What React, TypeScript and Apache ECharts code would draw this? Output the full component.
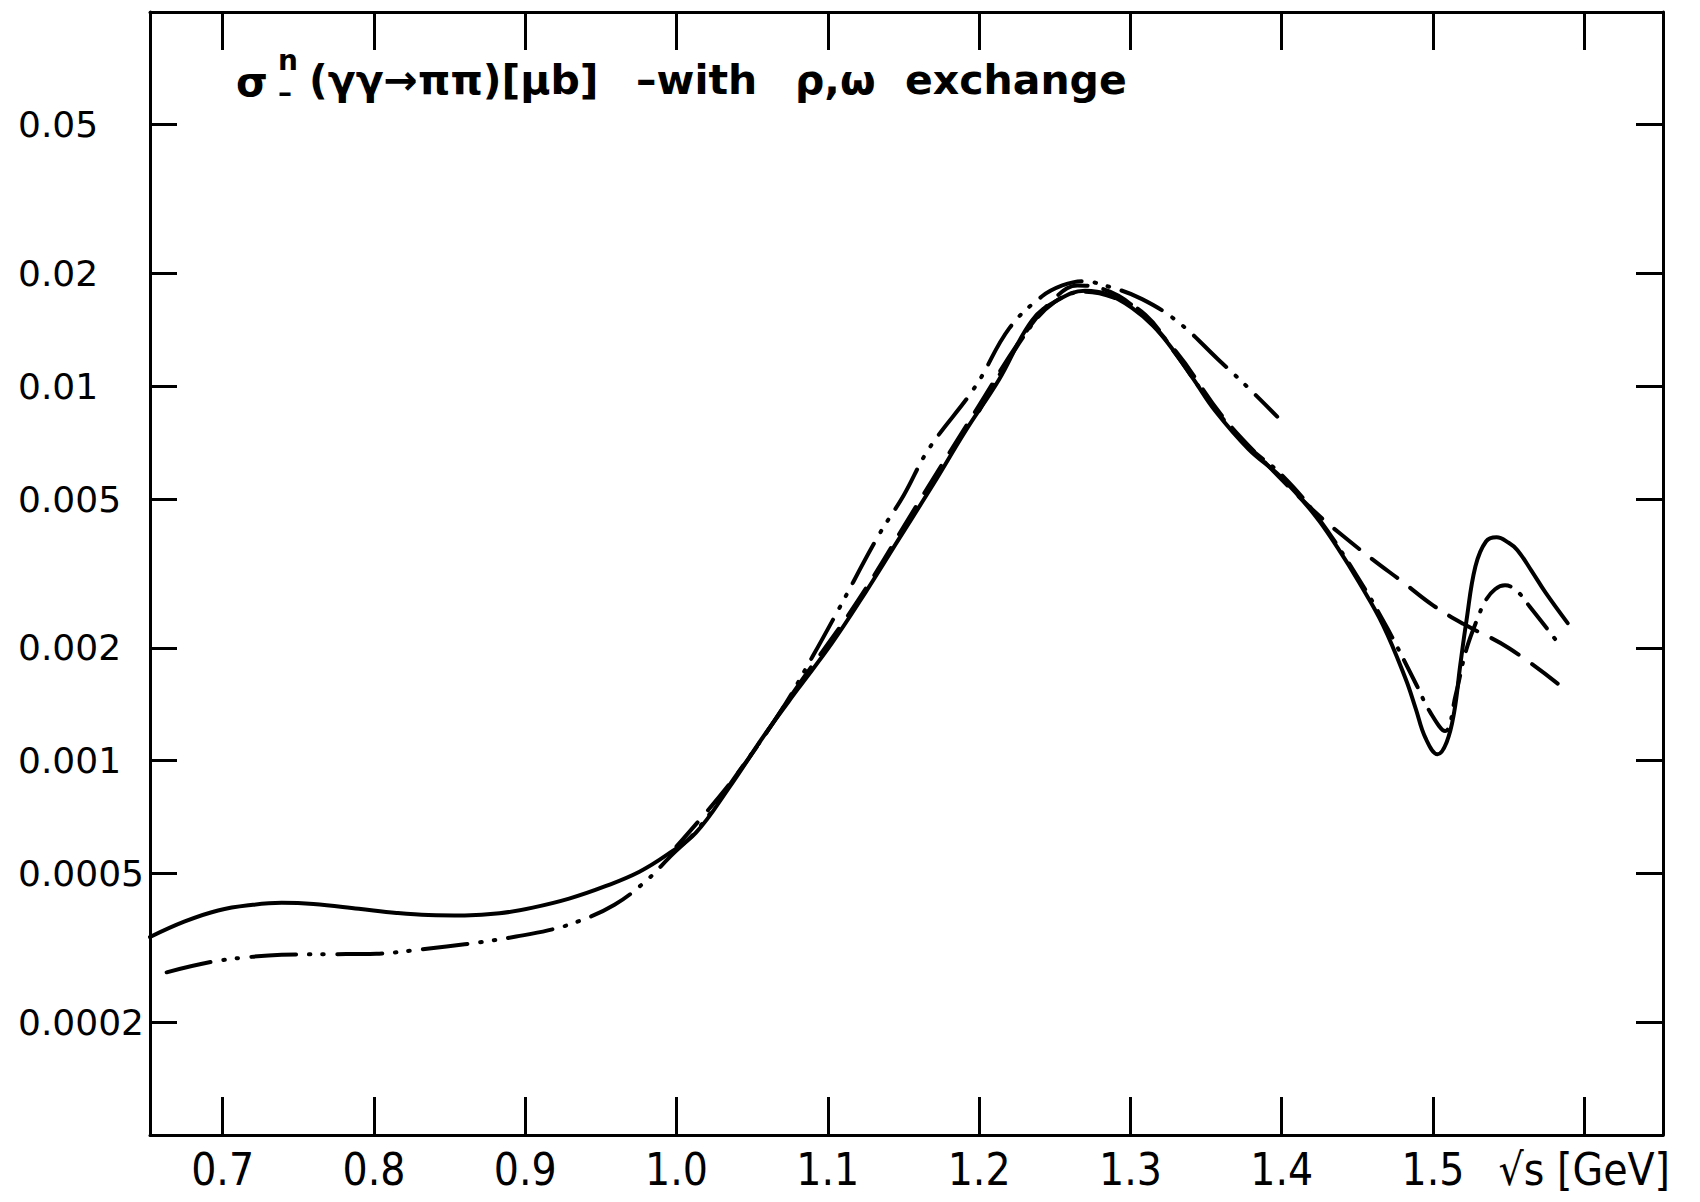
import React, { useEffect, useRef } from "react";
import * as echarts from "echarts";

// ---------- axis ticks ----------
const xTicks = [0.7, 0.8, 0.9, 1.0, 1.1, 1.2, 1.3, 1.4, 1.5, 1.6];
const xTickLabels = ["0.7", "0.8", "0.9", "1.0", "1.1", "1.2", "1.3", "1.4", "1.5", "√s [GeV]"];
const yTicks = [0.05, 0.02, 0.01, 0.005, 0.002, 0.001, 0.0005, 0.0002];
const yTickLabels = ["0.05", "0.02", "0.01", "0.005", "0.002", "0.001", "0.0005", "0.0002"];

// ---------- solid curve ----------
const solidX = [0.652, 0.675, 0.697, 0.72, 0.739, 0.76, 0.79, 0.815, 0.836, 0.86, 0.883, 0.905, 0.929, 0.953, 0.9755, 0.995, 1.0127, 1.035, 1.0587, 1.08, 1.1027, 1.125, 1.1468, 1.17, 1.191, 1.213, 1.235, 1.252, 1.27, 1.285, 1.301, 1.315, 1.3276, 1.342, 1.356, 1.378, 1.4, 1.4224, 1.437, 1.451, 1.467, 1.482, 1.4885, 1.495, 1.503, 1.509, 1.514, 1.518, 1.522, 1.528, 1.535, 1.542, 1.55, 1.5558, 1.565, 1.5744, 1.589];
const solidY = [0.000338, 0.000372, 0.000398, 0.000412, 0.000417, 0.000414, 0.000402, 0.000392, 0.000387, 0.000386, 0.000391, 0.000405, 0.000428, 0.000462, 0.000505, 0.000565, 0.000641, 0.00085, 0.00118, 0.00155, 0.00206, 0.00282, 0.0039, 0.0055, 0.0076, 0.0104, 0.015, 0.017, 0.018, 0.0176, 0.0162, 0.0145, 0.0126, 0.0104, 0.0086, 0.0068, 0.0057, 0.0045, 0.0037, 0.003, 0.0023, 0.00165, 0.00138, 0.00115, 0.00104, 0.00112, 0.00135, 0.0018, 0.00235, 0.0033, 0.00385, 0.00395, 0.00382, 0.00365, 0.00322, 0.00281, 0.00233];

// ---------- dash-dot-dot curve ----------
const ddotX = [0.663, 0.6925, 0.715, 0.739, 0.77, 0.8016, 0.825, 0.848, 0.872, 0.894, 0.915, 0.935, 0.959, 0.98, 0.995, 1.0146, 1.04, 1.0696, 1.09, 1.107, 1.1336, 1.15, 1.1667, 1.1976, 1.22, 1.2416, 1.255, 1.268, 1.285, 1.3077, 1.332, 1.358, 1.378, 1.397];
const ddotY = [0.000272, 0.00029, 0.000298, 0.000303, 0.000304, 0.000305, 0.000311, 0.000319, 0.000328, 0.000339, 0.000352, 0.000372, 0.000412, 0.000478, 0.00055, 0.00066, 0.00092, 0.00137, 0.0019, 0.00253, 0.004, 0.0051, 0.0068, 0.01, 0.0143, 0.0174, 0.0186, 0.0191, 0.0185, 0.0171, 0.0148, 0.0118, 0.0099, 0.0083];

// ---------- dashed curve ----------
const dashX = [1.0, 1.04, 1.08, 1.12, 1.16, 1.2, 1.23, 1.25, 1.265, 1.28, 1.3, 1.33, 1.36, 1.39, 1.4224, 1.44, 1.46, 1.48, 1.5, 1.52, 1.55, 1.5847];
const dashY = [0.00059, 0.00092, 0.00158, 0.00268, 0.0049, 0.0089, 0.0138, 0.0172, 0.0186, 0.0183, 0.0166, 0.0124, 0.0084, 0.0062, 0.0046, 0.004, 0.00345, 0.003, 0.0026, 0.00232, 0.002, 0.00158];

// ---------- dash-dot curve ----------
const dotX = [1.2, 1.23, 1.25, 1.27, 1.29, 1.31, 1.33, 1.356, 1.378, 1.4, 1.4224, 1.45, 1.47, 1.4885, 1.498, 1.508, 1.515, 1.522, 1.53, 1.5348, 1.541, 1.5476, 1.555, 1.5636, 1.5836];
const dotY = [0.0086, 0.0137, 0.0168, 0.0179, 0.0172, 0.0155, 0.0122, 0.0087, 0.0069, 0.0058, 0.00455, 0.0031, 0.00225, 0.00161, 0.00135, 0.0012, 0.0015, 0.00198, 0.00243, 0.00268, 0.00287, 0.00294, 0.00285, 0.00259, 0.00204];

const titleMain = "(γγ→ππ)[μb]";
const titleWith = "–with";
const titleRho = "ρ,ω";
const titleEx = "exchange";

const pairs = (xs: number[], ys: number[]) => xs.map((x, i) => [x, Math.log10(ys[i])]);
const yLogTicks = yTicks.map((v) => Math.log10(v));

function nearestLabel(v: number, vals: number[], labels: string[]) {
  let best = 0;
  let d = Infinity;
  vals.forEach((t, i) => {
    const dd = Math.abs(t - v);
    if (dd < d) {
      d = dd;
      best = i;
    }
  });
  return labels[best];
}

export default function App() {
  const ref = useRef<HTMLDivElement>(null);
  useEffect(() => {
    document.body.style.margin = "0";
    if (!ref.current) return;
    const chart = echarts.init(ref.current, undefined, { renderer: "svg" });
    const lineBase = (type: any) => ({
      color: "#000",
      width: 4,
      type,
      cap: "round",
      join: "round",
    });
    const axisLine = { show: true, onZero: false, lineStyle: { color: "#000", width: 3 } };
    const titleFont = '"DejaVu Sans", sans-serif';
    const tStyle = (text: string, x: number, y: number, size: number) => ({
      type: "text",
      style: { text, x, y, fontSize: size, fontWeight: "bold", fontFamily: titleFont, fill: "#000", verticalAlign: "middle" },
    });
    chart.setOption({
      animation: false,
      backgroundColor: "#fff",
      grid: { left: 150, right: 37, top: 12, bottom: 67, containLabel: false },
      xAxis: [
        {
          type: "value",
          min: 0.652,
          max: 1.652,
          position: "bottom",
          axisLine,
          splitLine: { show: false },
          axisTick: { show: true, inside: true, length: 38, customValues: xTicks, lineStyle: { color: "#000", width: 3 } },
          axisLabel: {
            show: true,
            customValues: xTicks,
            margin: 12,
            color: "#000",
            fontSize: 44,
            fontFamily: '"Liberation Sans Narrow", "DejaVu Sans Condensed", "Liberation Sans", sans-serif',
            formatter: (v: number) => nearestLabel(v, xTicks, xTickLabels),
          },
        },
        {
          type: "value",
          min: 0.652,
          max: 1.652,
          position: "top",
          axisLine,
          splitLine: { show: false },
          axisTick: { show: true, inside: true, length: 38, customValues: xTicks, lineStyle: { color: "#000", width: 3 } },
          axisLabel: { show: false },
        },
      ],
      yAxis: [
        {
          type: "value",
          min: -4,
          max: -1,
          position: "left",
          axisLine,
          splitLine: { show: false },
          axisTick: { show: true, inside: true, length: 27, customValues: yLogTicks, lineStyle: { color: "#000", width: 3 } },
          axisLabel: {
            show: true,
            customValues: yLogTicks,
            align: "left",
            margin: 132,
            color: "#000",
            fontSize: 36,
            fontFamily: '"DejaVu Sans", sans-serif',
            formatter: (v: number) => nearestLabel(v, yLogTicks, yTickLabels),
          },
        },
        {
          type: "value",
          min: -4,
          max: -1,
          position: "right",
          axisLine,
          splitLine: { show: false },
          axisTick: { show: true, inside: true, length: 27, customValues: yLogTicks, lineStyle: { color: "#000", width: 3 } },
          axisLabel: { show: false },
        },
      ],
      series: [
        {
          name: "solid",
          type: "line",
          data: pairs(solidX, solidY),
          showSymbol: false,
          smooth: 0.4,
          lineStyle: lineBase("solid"),
        },
        {
          name: "dash-dot-dot",
          type: "line",
          data: pairs(ddotX, ddotY),
          showSymbol: false,
          smooth: 0.4,
          lineStyle: lineBase([45, 13, 1.5, 12, 1.5, 13]),
        },
        {
          name: "dashed",
          type: "line",
          data: pairs(dashX, dashY),
          showSymbol: false,
          smooth: 0.4,
          lineStyle: lineBase([32, 16]),
        },
        {
          name: "dash-dot",
          type: "line",
          data: pairs(dotX, dotY),
          showSymbol: false,
          smooth: 0.4,
          lineStyle: lineBase([30, 12, 1.5, 12]),
        },
      ],
      graphic: [
        tStyle("σ", 236, 82, 41),
        tStyle("n", 278, 60, 28),
        tStyle("–", 278, 92, 28),
        tStyle(titleMain, 309, 80, 41),
        tStyle(titleWith, 636, 80, 41),
        tStyle(titleRho, 795, 80, 41),
        tStyle(titleEx, 905, 80, 41),
      ],
    });
    return () => chart.dispose();
  }, []);
  return <div ref={ref} style={{ width: 1700, height: 1202 }} />;
}
